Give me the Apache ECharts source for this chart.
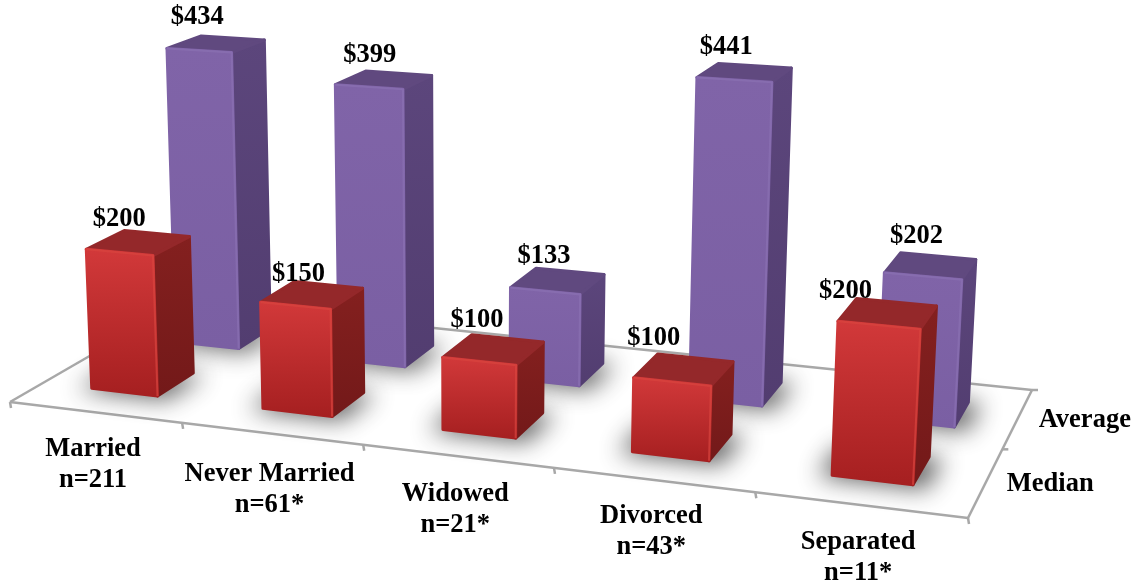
<!DOCTYPE html>
<html>
<head>
<meta charset="utf-8">
<style>
  html, body { margin: 0; padding: 0; background: #fff; }
  #main { width: 1141px; height: 585px; }
</style>
<script src="https://cdn.jsdelivr.net/npm/echarts@6/dist/echarts.min.js"></script>
</head>
<body>
<div id="main"></div>
<script>
var categories = ['Married', 'Never Married', 'Widowed', 'Divorced', 'Separated']
var sampleSizes = ['n=211', 'n=61*', 'n=21*', 'n=43*', 'n=11*']
var seriesNames = ['Median', 'Average'] // front row first
var medianValues = [200, 150, 100, 100, 200]
var averageValues = [434, 399, 133, 441, 202]

var FONT = 'bold 26.5px "Liberation Serif", "Times New Roman", serif'
var GRAY = '#a8a8a8'
var RED = { front: ['#d2393a', '#a51f20'], side: ['#84201f', '#731919'], top: '#94282a', rim: '#d8443e' }
var PURPLE = { front: ['#8064a8', '#7a5fa3'], side: ['#5c467c', '#523d70'], top: '#60497f', rim: '#8a70b2' }

// floor corners on the page: front-left, front-right, back-right, back-left
var Q = [[10, 402], [968, 518], [1032, 390], [183, 302]]
var VANISH = [470, 10000] // verticals lean towards this point
var BAR_W = 0.039, BAR_D = 0.105 // half footprint on the floor
var ROW_V = [0.28, 0.735] // row centres across the floor depth
var ROW_U = [-0.003, 0.0045] // small sideways offset of each row
var TALL = 0.0002 // tall bars come up towards the camera a bit faster
// the value labels were placed by hand in the original
var LABEL_SHIFT = [
  [[-5, 5], [4, 9], [5, 1], [-4, 0], [-11, 9]],
  [[-4, -3], [4, 0], [8, 4], [8, 0], [16, -1]]
]
var CATEGORY_NUDGE = [2, 6, 3, 2, 3]

var H = (function() {
  var x0 = Q[0][0], y0 = Q[0][1], x1 = Q[1][0], y1 = Q[1][1]
  var x2 = Q[2][0], y2 = Q[2][1], x3 = Q[3][0], y3 = Q[3][1]
  var dx1 = x1 - x2, dx2 = x3 - x2, sx = x0 - x1 + x2 - x3
  var dy1 = y1 - y2, dy2 = y3 - y2, sy = y0 - y1 + y2 - y3
  var den = dx1 * dy2 - dx2 * dy1
  var g = (sx * dy2 - dx2 * sy) / den
  var h = (dx1 * sy - sx * dy1) / den
  return { a: x1 - x0 + g * x1, b: x3 - x0 + h * x3, c: x0, d: y1 - y0 + g * y1, e: y3 - y0 + h * y3, f: y0, g: g, h: h }
})()

function floor(u, v) {
  var w = H.g * u + H.h * v + 1
  return [(H.a * u + H.b * v + H.c) / w, (H.d * u + H.e * v + H.f) / w]
}
// lift a floor point by px, scaled by how close that spot is
function lift(u, v, px) {
  var p = floor(u, v)
  var s = px * (1 + px * TALL) / (H.g * u + H.h * v + 1)
  var dx = p[0] - VANISH[0], dy = p[1] - VANISH[1]
  var len = Math.sqrt(dx * dx + dy * dy)
  return [p[0] + dx / len * s, p[1] + dy / len * s]
}

function barRenderer(depth, pal) {
  return function(params, api) {
    var sys = params.coordSys
    var u = (api.coord([api.value(0), 0])[0] - sys.x) / sys.width + ROW_U[depth]
    var v = ROW_V[depth]
    var h = api.size([0, api.value(1)])[1]
    var u0 = u - BAR_W, u1 = u + BAR_W, v0 = v - BAR_D, v1 = v + BAR_D
    var shift = LABEL_SHIFT[depth][params.dataIndex]

    var f0 = floor(u0, v0), f1 = floor(u1, v0), f2 = floor(u1, v1)
    var t0 = lift(u0, v0, h), t1 = lift(u1, v0, h), t2 = lift(u1, v1, h), t3 = lift(u0, v1, h)

    var poly = function(points, fill) {
      var isGrad = Array.isArray(fill)
      var color = isGrad ? new echarts.graphic.LinearGradient(0, 0, 0, 1, [
        { offset: 0, color: fill[0] }, { offset: 1, color: fill[1] }
      ]) : fill
      return {
        type: 'polygon',
        shape: { points: points },
        style: { fill: color, stroke: color, lineWidth: 3, lineJoin: 'round' }
      }
    }
    // soft floor shadow: the polygon sits off the page, only its blur lands here
    var shadow = {
      type: 'polygon',
      x: -3000,
      shape: { points: [floor(u0 - 0.012, v0 - 0.02), floor(u1 + 0.014, v0 - 0.02), floor(u1 + 0.014, v1), floor(u0 - 0.012, v1)] },
      style: { fill: '#000', shadowBlur: 24, shadowOffsetX: 3000, shadowColor: 'rgba(30,30,30,0.72)' }
    }
    return {
      type: 'group',
      children: [
        shadow,
        poly([f1, f2, t2, t1], pal.side),
        poly([t0, t1, t2, t3], pal.top),
        poly([f0, f1, t1, t0], pal.front),
        { type: 'polyline', shape: { points: [t0, t1, f1] }, style: { fill: null, stroke: pal.rim, lineWidth: 2, opacity: 0.7 } },
        {
          type: 'text',
          x: t3[0] + shift[0], y: t3[1] - 16 + shift[1],
          style: { text: '$' + api.value(1), font: FONT, fill: '#000', align: 'center', verticalAlign: 'middle' }
        }
      ]
    }
  }
}

// floor outline, ticks and the category / series labels
function frameRenderer(params, api) {
  var line = function(a, b) {
    return { type: 'line', shape: { x1: a[0], y1: a[1], x2: b[0], y2: b[1] }, style: { stroke: GRAY, lineWidth: 2.5 } }
  }
  var kids = [
    line(Q[3], Q[0]), line(Q[0], Q[1]), line(Q[1], Q[2]), line(Q[2], Q[3])
  ]
  categories.forEach(function(name, i) {
    var t = floor(i / categories.length, 0)
    kids.push(line(t, [t[0] + 1, t[1] + 6]))
    var c = floor((i + 0.5) / categories.length, 0)
    kids.push({
      type: 'text', x: c[0] - 2, y: c[1] + 50 + CATEGORY_NUDGE[i],
      style: { text: name + '\n' + sampleSizes[i], font: FONT, lineHeight: 31, fill: '#000', align: 'center', verticalAlign: 'middle' }
    })
  })
  var tEnd = floor(1, 0)
  kids.push(line(tEnd, [tEnd[0] + 1, tEnd[1] + 6]))
  var tMid = floor(1, 0.5)
  kids.push(line(tMid, [tMid[0] + 6, tMid[1]]))
  var tBack = floor(1, 1)
  kids.push(line(tBack, [tBack[0] + 6, tBack[1]]))
  seriesNames.forEach(function(name, d) {
    var p = floor(1, (d + 0.5) / seriesNames.length)
    kids.push({
      type: 'text', x: p[0] + 21, y: p[1] + 2,
      style: { text: name, font: FONT, fill: '#000', align: 'left', verticalAlign: 'middle' }
    })
  })
  return { type: 'group', children: kids }
}

function toData(values) {
  return values.map(function(val, i) { return [i, val] })
}

var chart = echarts.init(document.getElementById('main'))
chart.setOption({
  animation: false,
  backgroundColor: '#fff',
  grid: { left: 0, right: 0, top: 0, bottom: 0 },
  xAxis: { type: 'category', data: categories, show: false },
  yAxis: { type: 'value', min: 0, max: 850, show: false },
  series: [
    { type: 'custom', name: 'frame', silent: true, clip: false, z: 1, data: [[0, 0]], renderItem: frameRenderer },
    { type: 'custom', name: seriesNames[1], silent: true, clip: false, z: 2, data: toData(averageValues), renderItem: barRenderer(1, PURPLE) },
    { type: 'custom', name: seriesNames[0], silent: true, clip: false, z: 3, data: toData(medianValues), renderItem: barRenderer(0, RED) }
  ]
})
</script>
</body>
</html>
